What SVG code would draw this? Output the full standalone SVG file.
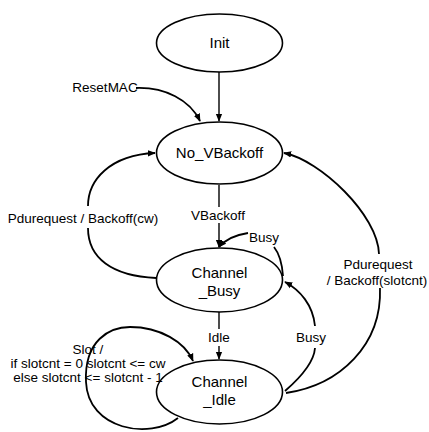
<svg xmlns="http://www.w3.org/2000/svg" width="429" height="432" viewBox="0 0 429 432">
<style>
.node ellipse{fill:#fff;stroke:#000;stroke-width:1.6}
.node text{font-family:"Liberation Sans",Arial,sans-serif;font-size:15px;text-anchor:middle;fill:#000}
.edge{fill:none;stroke:#000;stroke-width:1.8}
.thin{stroke-width:1.4}
.lbl{font-family:"Liberation Sans",Arial,sans-serif;font-size:13.5px;text-anchor:middle;fill:#000}
</style>
<defs>
<marker id="ah" viewBox="0 0 10 10" refX="9" refY="5" markerWidth="8" markerHeight="8" markerUnits="userSpaceOnUse" orient="auto">
<path d="M0,1 L10,5 L0,9 Z" fill="#000"/>
</marker>
</defs>
<rect width="429" height="432" fill="#fff"/>
<g id="connectors">
<path class="edge thin" d="M219 72 L219 121" marker-end="url(#ah)"/>
<path class="edge" d="M136 88 C165 87 190 100 200 121" marker-end="url(#ah)"/>
<path class="edge thin" d="M219 185 L219 207"/>
<path class="edge thin" d="M219 223 L219 247" marker-end="url(#ah)"/>
<path class="edge" d="M156 278 C112 276 88 258 88 228"/>
<path class="edge" d="M88 206 C88 180 110 155 155 153" marker-end="url(#ah)"/>
<path class="edge" d="M283 276 C282 262 278 252 274 247"/>
<path class="edge" d="M248 233 C235 235 225 240 219 247" marker-end="url(#ah)"/>
<path class="edge thin" d="M219 312 L219 329"/>
<path class="edge thin" d="M219 346 L219 359" marker-end="url(#ah)"/>
<path class="edge" d="M285 391 C300 378 314 362 315 348"/>
<path class="edge" d="M315 326 C313 305 300 290 285 282" marker-end="url(#ah)"/>
<path class="edge" d="M286 393 C340 385 382 345 380 288"/>
<path class="edge" d="M379 254 C378 215 320 160 284 153" marker-end="url(#ah)"/>
<path class="edge" d="M178 418 C150 440 88 430 86 382 C84 340 110 327 130 327 C160 327 185 342 193 361" marker-end="url(#ah)"/>
</g>
<g id="label-resetmac"><text class="lbl" x="105" y="92">ResetMAC</text></g>
<g id="label-vbackoff"><text class="lbl" x="218" y="220">VBackoff</text></g>
<g id="label-pdu-cw"><text class="lbl" x="83" y="223">Pdurequest / Backoff(cw)</text></g>
<g id="label-busy1"><text class="lbl" x="264" y="242">Busy</text></g>
<g id="label-idle"><text class="lbl" x="219" y="342">Idle</text></g>
<g id="label-busy2"><text class="lbl" x="311" y="342">Busy</text></g>
<g id="label-pdu-slot"><text class="lbl" x="378" y="269">Pdurequest</text><text class="lbl" x="377" y="285">/ Backoff(slotcnt)</text></g>
<g id="label-slot"><text class="lbl" x="88" y="354">Slot /</text><text class="lbl" x="88" y="368">if slotcnt = 0 slotcnt &lt;= cw</text><text class="lbl" x="88" y="382">else slotcnt &lt;= slotcnt - 1</text></g>
<g id="init" class="node"><ellipse cx="219.5" cy="43" rx="63" ry="29"/><text x="219.5" y="48">Init</text></g>
<g id="no_vbackoff" class="node"><ellipse cx="219.5" cy="153" rx="63" ry="31"/><text x="219.5" y="158">No_VBackoff</text></g>
<g id="channel_busy" class="node"><ellipse cx="219.5" cy="280" rx="63" ry="32"/><text x="219.5" y="278">Channel</text><text x="219.5" y="296">_Busy</text></g>
<g id="channel_idle" class="node"><ellipse cx="219.5" cy="392" rx="63" ry="32" fill="none" style="fill:none"/><text x="219.5" y="387">Channel</text><text x="219.5" y="405">_Idle</text></g>
</svg>
